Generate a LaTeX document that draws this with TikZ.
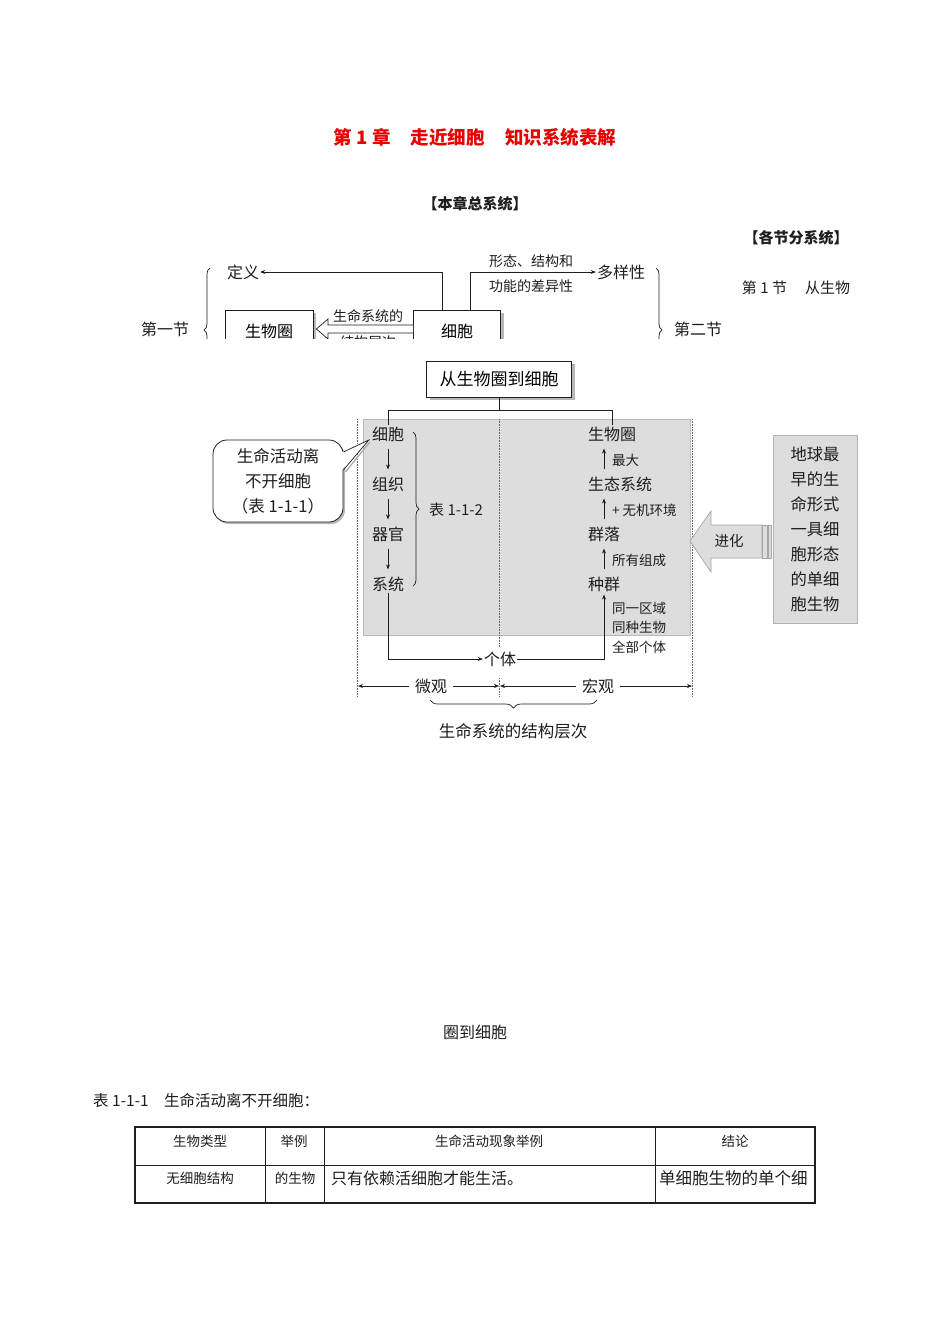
\documentclass[tikz,border=0pt]{standalone}
\usepackage{fontspec}
\setmainfont{Noto Sans CJK SC}
\usetikzlibrary{arrows.meta,decorations.pathreplacing,shadows,calc}
\newcommand\fsz[1]{\fontsize{#1}{#1}\selectfont}
\definecolor{panel}{RGB}{221,221,221}
\definecolor{titlered}{RGB}{232,0,0}
\definecolor{ink}{RGB}{30,30,30}
\begin{document}
\begin{tikzpicture}[x=1pt,y=-1pt,
  txt/.style={inner sep=1pt, text=ink},
  arr/.style={-{Stealth[length=5pt,width=4pt]}, line width=0.7pt, draw=ink},
  ln/.style={line width=0.7pt, draw=ink},
  boxn/.style={draw=ink, line width=0.8pt, fill=white, inner sep=0pt},
  shad/.style={drop shadow={shadow xshift=3pt, shadow yshift=-3pt, fill=gray!70, opacity=0.8}},
  brc/.style={decorate, decoration={brace, amplitude=6pt}, line width=0.7pt, draw=ink},
  dotl/.style={densely dotted, line width=0.6pt, draw=gray!80!black},
]
\useasboundingbox[fill=white] (0,0) rectangle (950,1344);

% ---------- headings ----------
\node[txt, text=titlered] (title) at (475,137) {\fsz{18.5}\bfseries 第 1 章\hspace{1.1em}走近细胞\hspace{1.1em}知识系统表解};
\node[txt] (h1) at (475,204) {\fsz{15}\bfseries 【本章总系统】};
\node[txt] (h2) at (796,238) {\fsz{15}\bfseries 【各节分系统】};
\node[txt] (h3) at (796,288) {\fsz{15}第 1 节\hspace{1.2em}从生物};

% ---------- top (clipped) diagram ----------
\begin{scope}
\clip (120,245) rectangle (760,338);
\node[boxn, shad, minimum width=88, minimum height=42] (bq) at (269,331) {\fsz{16}生物圈};
\node[boxn, shad, minimum width=87, minimum height=42] (xb) at (457,331) {\fsz{16}细胞};
\node[txt] (dy) at (243,272) {\fsz{16}定义};
\node[txt] (dyx) at (621,272) {\fsz{16}多样性};
\node[txt] (f1) at (531,261) {\fsz{14}形态、结构和};
\node[txt] (f2) at (531,286) {\fsz{14}功能的差异性};
\draw[arr] ([xshift=-15pt]xb.north) |- (dy.east);
\draw[arr] ([xshift=13pt]xb.north) |- (dyx.west);
\node[txt] (d1) at (165,329) {\fsz{16}第一节};
\node[txt] (d2) at (698,329) {\fsz{16}第二节};
\draw[brc] (210,392) -- (210,268);
\draw[brc] (656,268) -- (656,392);
\node[txt] (sl1) at (368,316) {\fsz{14}生命系统的};
\node[txt] (sl2) at (368,342) {\fsz{14}结构层次};
\draw[ln, fill=white] ($(xb.west)+(0,-6)$) -- (328,325) -- (328,319) -- ($(bq.east)+(3,-2)$) -- (328,339) -- (328,333) -- ($(xb.west)+(0,2)$);
\end{scope}

% ---------- main diagram ----------
\node[boxn, shad, minimum width=145, minimum height=36] (top) at (499,379) {\fsz{17}从生物圈到细胞};

\fill[panel] (363,419) rectangle (690,635);
\draw[gray!55, line width=0.6pt] (363,419) rectangle (690,635);

\draw[dotl] (357,419) -- (357,697);
\draw[dotl] (692,419) -- (692,697);
\draw[dotl] (499,419) -- (499,647);
\draw[dotl] (499,678) -- (499,697);

% left column
\node[txt] (c1) at (388,434) {\fsz{16}细胞};
\node[txt] (c2) at (388,484) {\fsz{16}组织};
\node[txt] (c3) at (388,534) {\fsz{16}器官};
\node[txt] (c4) at (388,584) {\fsz{16}系统};
\draw[arr, shorten <=6pt, shorten >=6pt] (c1) -- (c2);
\draw[arr, shorten <=6pt, shorten >=6pt] (c2) -- (c3);
\draw[arr, shorten <=6pt, shorten >=6pt] (c3) -- (c4);
\draw[brc] (413,432) -- (413,586);
\node[txt, anchor=west] (t112) at (428,510) {\fsz{15}表 1-1-2};

% right column
\coordinate (ax) at (604,0);
\node[txt, anchor=west] (r1) at (587,434) {\fsz{16}生物圈};
\node[txt, anchor=west] (r2) at (587,484) {\fsz{16}生态系统};
\node[txt, anchor=west] (r3) at (587,534) {\fsz{16}群落};
\node[txt, anchor=west] (r4) at (587,584) {\fsz{16}种群};
\draw[arr, shorten <=6pt, shorten >=6pt] (ax |- r2.north) -- (ax |- r1.south);
\draw[arr, shorten <=6pt, shorten >=6pt] (ax |- r3.north) -- (ax |- r2.south);
\draw[arr, shorten <=6pt, shorten >=6pt] (ax |- r4.north) -- (ax |- r3.south);
\node[txt, anchor=west] (l1) at (611,460) {\fsz{13.5}最大};
\node[txt, anchor=west] (l2) at (611,510) {\fsz{13.5}+ 无机环境};
\node[txt, anchor=west] (l3) at (611,560) {\fsz{13.5}所有组成};
\node[txt, anchor=west] (l4) at (611,608) {\fsz{13.5}同一区域};
\node[txt, anchor=west] (l5) at (611,627) {\fsz{13.5}同种生物};
\node[txt, anchor=west] (l6) at (611,647) {\fsz{13.5}全部个体};

% connectors from title box
\coordinate (jn) at (499,410);
\draw[ln] (top.south) -- (jn);
\draw[ln] (jn) -| (c1.north);
\draw[ln] (jn) -| (r1.north);

% individual
\node[txt] (gt) at (500,659) {\fsz{16}个体};
\draw[arr] (c4.south) |- (gt.west);
\draw[arr, shorten >=2pt] (gt.east) -| (ax |- r4.south);

% callout
\node[draw=ink, line width=0.8pt, fill=white, rounded corners=14pt, minimum width=130, minimum height=82,
      align=center, text=ink, font={\fontsize{16.5}{25}\selectfont},
      drop shadow={shadow xshift=2pt, shadow yshift=-2pt, fill=gray!70, opacity=0.8}] (co) at (278,481)
      {生命活动离\\不开细胞\\（表 1-1-1）};
\fill[white] ($(co.east)+(-1.5,-29)$) -- ($(c1.west)+(-2,6)$) -- ($(co.east)+(-1.5,-11)$) -- cycle;
\draw[gray!70, line width=1.2pt] ($(c1.west)+(-1,8)$) -- ($(co.east)+(2,-9)$);
\draw[ln] ($(co.east)+(0,-29)$) -- ($(c1.west)+(-2,6)$) -- ($(co.east)+(0,-11)$);

% evolution arrow and right box
\draw[fill=panel, draw=gray!70, line width=0.7pt] (690,541) -- (711,511) -- (711,525) -- (762,525) -- (762,558) -- (711,558) -- (711,572) -- cycle;
\draw[fill=panel, draw=gray!70, line width=0.5pt] (762,525) rectangle (767,558);
\draw[fill=panel, draw=gray!70, line width=0.5pt] (768,525) rectangle (771,558);
\node[txt] (jh) at (729,541) {\fsz{14.5}进化};
\node[fill=panel, draw=gray!60, line width=0.6pt, minimum width=84, minimum height=188, align=center, inner sep=0pt, text=ink,
      font={\fontsize{16.3}{25}\selectfont}] (rb) at (815,529)
  {地球最\\早的生\\命形式\\一具细\\胞形态\\的单细\\胞生物};

% micro / macro
\coordinate (L) at (358,686);
\coordinate (M) at (499,686);
\coordinate (R) at (692,686);
\node[txt] (wg) at (431,686) {\fsz{16}微观};
\node[txt] (hg) at (598,686) {\fsz{16}宏观};
\draw[arr, shorten <=5pt] (wg.west) -- (L);
\draw[arr, shorten <=5pt] (wg.east) -- (M);
\draw[arr, shorten <=5pt, shorten >=1pt] (hg.west) -- (M);
\draw[arr, shorten <=5pt] (hg.east) -- (R);
\draw[brc, decoration={brace, amplitude=8pt}] (597,700) -- (430,700);
\node[txt] (jg) at (513,731) {\fsz{16.5}生命系统的结构层次};

% ---------- lower text ----------
\node[txt] (qd) at (475,1032) {\fsz{16}圈到细胞};
\node[txt, anchor=west] (tb) at (92,1101) {\fsz{15.5}表 1-1-1\hspace{1em}生命活动离不开细胞：};

% table
\draw[ink, line width=0.9pt] (135,1165) -- (815,1165);
\draw[ink, line width=0.9pt] (265,1127) -- (265,1203);
\draw[ink, line width=0.9pt] (324,1127) -- (324,1203);
\draw[ink, line width=0.9pt] (655,1127) -- (655,1203);
\draw[ink, line width=2pt] (135,1127) rectangle (815,1203);
\node[txt] (a1) at (200,1141) {\fsz{13.5}生物类型};
\node[txt] (a2) at (294,1141) {\fsz{13.5}举例};
\node[txt] (a3) at (489,1141) {\fsz{13.5}生命活动现象举例};
\node[txt] (a4) at (735,1141) {\fsz{13.5}结论};
\node[txt] (b1) at (200,1178) {\fsz{13.5}无细胞结构};
\node[txt] (b2) at (295,1178) {\fsz{13.5}的生物};
\node[txt, anchor=west] (b3) at (330,1178) {\fsz{16}只有依赖活细胞才能生活。};
\node[txt, anchor=west] (b4) at (658,1178) {\fsz{16.5}单细胞生物的单个细};
\end{tikzpicture}
\end{document}
